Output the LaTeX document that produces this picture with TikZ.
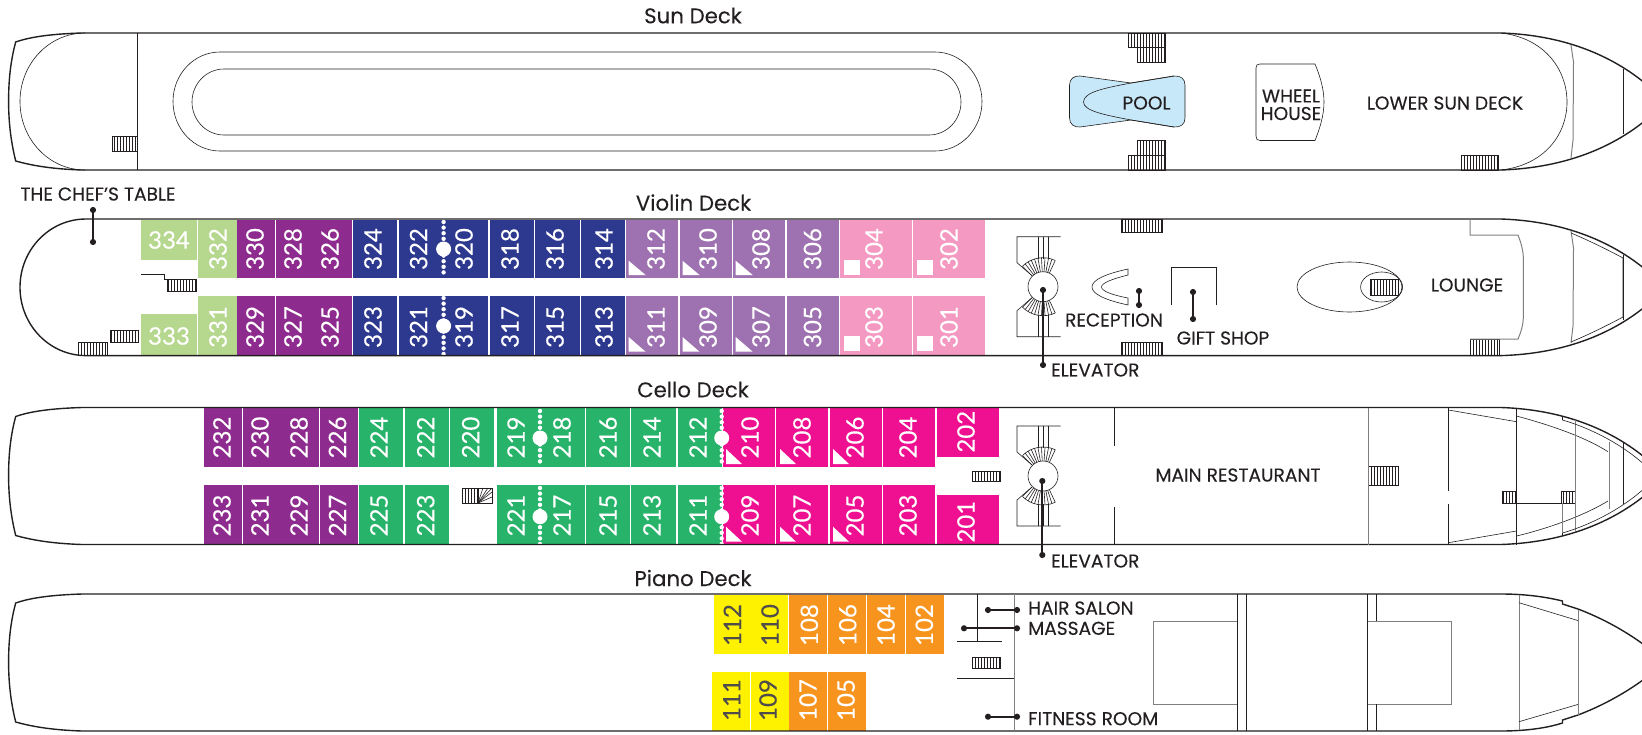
\documentclass[tikz,border=0pt]{standalone}
\usepackage{fontspec}
\setmainfont{Poppins}[FakeBold=0.15]
\newfontfamily\numfont{Lato}[FakeBold=0.2]
\usetikzlibrary{arrows.meta, patterns, positioning}

\definecolor{ink}{HTML}{231F20}
\definecolor{wallgrey}{HTML}{7F7F7F}
\definecolor{leaf}{HTML}{B5D88E}
\definecolor{plum}{HTML}{8E2B8E}
\definecolor{navy}{HTML}{2D388F}
\definecolor{lilac}{HTML}{9E72B0}
\definecolor{rose}{HTML}{F499C1}
\definecolor{emerald}{HTML}{27B36A}
\definecolor{magenta}{HTML}{EE1090}
\definecolor{amber}{HTML}{F7941E}
\definecolor{lemon}{HTML}{FFF200}
\definecolor{poolblue}{HTML}{C7E8F8}

\tikzset{
	pics/bow/.style = {code = {% long sides and pointed end, origin on the top side
		\draw[hull] (82,0) -- (1501,0) .. controls (1590,3) and (1640,42) .. (1665,69)
			.. controls (1640,96) and (1590,134) .. (1501,137) -- (82,137);
	}},
	pics/stern/.style = {code = {% flat end
		\draw[hull] (82,0) .. controls (50,1) and (30,4) .. (15.7,9)
			.. controls (10,30) and (8.6,50) .. (8.6,68)
			.. controls (8.6,85) and (10,105) .. (15.7,128)
			.. controls (30,132) and (50,136) .. (82,137);
	}},
	pics/lift/.style = {code = {% stairs round the lift shaft
		\draw[thin wall] (17.7,-50) -- (-26,-50) -- (-26,-24) -- (-11,-11);
		\draw[thin wall] (17.7,50) -- (-26,50) -- (-26,24) -- (-11,11);
		\foreach \lx in {-5,0,5} {
			\draw[thin wall] (\lx,-50) -- (\lx,-28);
			\draw[thin wall] (\lx,50) -- (\lx,28);
		}
		\foreach \fan in {225,232,...,295} {
			\draw[thin wall] (\fan:15) -- (\fan:29);
			\draw[thin wall] (360-\fan:15) -- (360-\fan:29);
		}
		\draw[thin wall] (225:29) arc (225:295:29);
		\draw[thin wall] (135:29) arc (135:65:29);
		\draw[thin wall, fill=white] (0,0) circle (15);
	}}
}

\begin{document}
\begin{tikzpicture}[x=1pt, y=-1pt,
	hull/.style = {draw=ink, line width=1.4pt},
	thin wall/.style = {draw=ink, line width=0.6pt},
	grey wall/.style = {draw=wallgrey, line width=1pt},
	stairs/.style = {draw=ink, line width=0.6pt, pattern=vertical lines, pattern color=ink},
	room/.style = {text=white, rotate=90, inner sep=0pt, font=\numfont\fontsize{24}{24}\selectfont},
	dark room/.style = {room, text=ink!80},
	tag/.style = {text=ink, inner sep=0pt, font=\fontsize{18.6}{20}\selectfont},
	deckname/.style = {text=ink, inner sep=0pt, font=\fontsize{21.3}{23}\selectfont},
	pointer/.style = {draw=ink, line width=2pt, {Circle[length=6pt]}-{Circle[length=6pt]}},
	portholes/.style = {draw=white, line width=4.4pt, line cap=round, dash pattern=on 0pt off 5.6pt},
	mark up/.style = {fill=white}]

\clip (0,0) rectangle (1642,734);

% deck names
\node[deckname] (sunName) at (693,15.5) {Sun Deck};
\node[deckname] (violinName) at (693.5,202.5) {Violin Deck};
\node[deckname] (celloName) at (693,389.5) {Cello Deck};
\node[deckname] (pianoName) at (693,578) {Piano Deck};

% ---------- Sun Deck ----------
\pic at (0,33) {stern};
\pic at (0,33) {bow};
\draw[thin wall] (85,33) arc (270:90:65 and 68.5);
\draw[thin wall] (1501,33) .. controls (1545,38) and (1567,70) .. (1567,102)
	.. controls (1567,134) and (1545,165) .. (1501,170);
\draw[thin wall] (137.5,33) -- (137.5,170);
\draw[grey wall] (1571,45) -- (1573.5,62) -- (1573,140) -- (1571,158);
\draw[thin wall] (1623,69) -- (1623,134);
% walking track
\draw[thin wall] (220,52) -- (935,52) arc (270:450:47 and 49.5) -- (220,151) arc (90:270:47 and 49.5);
\draw[thin wall] (224,69) -- (929,69) arc (270:450:32 and 33) -- (224,135) arc (90:270:32 and 33);
% stairs
\draw[stairs] (112.5,136) rectangle (137.5,151);
\draw[stairs] (1128,33) rectangle (1165,47);
\draw[stairs] (1137,47) rectangle (1165,62);
\draw[stairs] (1137,140) rectangle (1165,155);
\draw[stairs] (1128,155) rectangle (1165,170);
\draw[stairs] (1461,155) rectangle (1498,170);
% pool
\draw[thin wall, fill=poolblue] (1131,83) -- (1080,76) .. controls (1074,75.5) and (1069.5,79) .. (1069.5,85)
	-- (1069.5,118) .. controls (1069.5,124) and (1074,127.5) .. (1080,127) -- (1131,120) -- (1174,127)
	.. controls (1181,127.5) and (1185,124) .. (1185,118) -- (1185,85)
	.. controls (1185,79) and (1181,75.5) .. (1174,76) -- cycle;
\draw[thin wall] (1174,76) -- (1131,83) .. controls (1105,88) and (1083.5,92) .. (1083.5,102)
	.. controls (1083.5,111) and (1105,115) .. (1131,120) -- (1174,127);
\node[tag] (pool) at (1146.5,103) {POOL};
% wheel house
\draw[thin wall] (1315,64) -- (1260,64) .. controls (1257,64) and (1256,65) .. (1256,68) -- (1256,136)
	.. controls (1256,139) and (1257,140.5) .. (1260,140.5) -- (1315,140.5)
	.. controls (1320,128) and (1324,115) .. (1324,102) .. controls (1324,89) and (1320,76) .. (1315,64);
\node[tag] (wheelWord) at (1291,96) {WHEEL};
\node[tag] (houseWord) at (1291,113.5) {HOUSE};
\node[tag] (lowerSun) at (1445,103) {LOWER SUN DECK};

% ---------- Violin Deck ----------
\fill[leaf] (141,219.5) rectangle (197,260);
\fill[leaf] (141,314) rectangle (197,355);
\foreach \xa/\xb/\shade in {198/236.5/leaf, 237/275/plum, 276/352/plum, 353/397/navy, 399/488/navy,
	490/534/navy, 535/579.5/navy, 581.4/625.4/navy, 626/678/lilac, 679.6/732/lilac, 733/785/lilac,
	787/839/lilac, 840/912/rose, 913/985/rose} {
	\fill[\shade] (\xa,219.5) rectangle (\xb,277.7);
	\fill[\shade] (\xa,296) rectangle (\xb,355);
}
\foreach \nx/\numa/\numb in {218/332/331, 255/330/329, 293/328/327, 330/326/325, 373/324/323,
	418.6/322/321, 464/320/319, 510/318/317, 555/316/315, 604/314/313, 656/312/311, 708/310/309,
	761/308/307, 812.5/306/305, 874/304/303, 949/302/301} {
	\node[room] (c\numa) at (\nx,249) {\numa};
	\node[room] (c\numb) at (\nx,327) {\numb};
}
\node[room, rotate=-90] (c334) at (169,240) {334};
\node[room, rotate=-90] (c333) at (169,336) {333};
\foreach \tx in {628.6,682.5,735.7} {% accessible corners
	\fill[mark up] (\tx,260.7) -- (\tx,275) -- (\tx+17,275) -- cycle;
	\fill[mark up] (\tx,337) -- (\tx,351.7) -- (\tx+17,351.7) -- cycle;
}
\foreach \sx in {844,917} {
	\fill[mark up] (\sx,260) rectangle (\sx+16,275);
	\fill[mark up] (\sx,336) rectangle (\sx+16,351);
}
\draw[portholes] (443.6,222) -- (443.6,276);
\draw[portholes] (443.6,298) -- (443.6,354);
\fill[white] (443.6,249) circle (7.5);
\fill[white] (443.6,326) circle (7.5);
\draw[hull] (1501,219) -- (86,219) arc (270:90:66 and 68.3) -- (1501,355.6);
\draw[hull] (1501,219) .. controls (1590,222) and (1640,261) .. (1665,288)
	.. controls (1640,315) and (1590,353) .. (1501,355.6);
\draw[thin wall] (141,274) -- (164,274) -- (164,279) -- (167,279);
\draw[stairs] (167,279) rectangle (196,291);
\draw[stairs] (110,330) rectangle (138.6,342);
\draw[stairs] (78.6,342) rectangle (107,355);
\draw[stairs] (1121,219) rectangle (1162,232);
\draw[stairs] (1121,342) rectangle (1162,355.5);
\draw[stairs] (1470,339) rectangle (1499.6,355.5);
\pic at (1043,286.7) {lift};
% reception and gift shop
\draw[thin wall] (1128,269) .. controls (1105,274) and (1092,280) .. (1092,287) .. controls (1092,294) and (1105,300) .. (1128,305)
	-- (1128,298) .. controls (1112,295) and (1101.5,291) .. (1101.5,287) .. controls (1101.5,283) and (1112,279) .. (1128,275) -- cycle;
\draw[thin wall] (1171,305) -- (1171,267) -- (1216,267) -- (1216,305);
\draw[thin wall] (1349.5,287) ellipse (52.5 and 25);
\draw[thin wall] (1381.6,287) ellipse (21 and 15);
\draw[stairs] (1370.6,279) rectangle (1398,295);
% lounge
\draw[grey wall] (1470,219) -- (1470,235) -- (1518,235) .. controls (1521,243) and (1523.3,250) .. (1523.3,258)
	-- (1523.3,317) .. controls (1523.3,325) and (1521,332) .. (1518,339) -- (1470,339);
\draw[grey wall] (1571,231) -- (1573.5,248) -- (1573,326) -- (1571,343);
\draw[thin wall] (1571,233) .. controls (1590,241) and (1608,250) .. (1623,258) -- (1623,317)
	.. controls (1608,325) and (1590,334) .. (1571,342);
\draw[thin wall] (1623,255) -- (1623,320);
\node[tag] (lounge) at (1467,285) {LOUNGE};
% labels with pointers
\node[tag] (chefTable) at (98,194) {THE CHEF’S TABLE};
\coordinate (chefA) at (93,207);
\coordinate (chefB) at (93,245);
\draw[pointer] (chefA) -- (chefB);
\coordinate (liftA) at (1043,287);
\coordinate (liftB) at (1043,368);
\draw[pointer] (liftA) -- (liftB);
\node[tag, right=8pt of liftB, yshift=-2pt] (elevatorA) {ELEVATOR};
\node[tag] (reception) at (1114,320) {RECEPTION};
\coordinate (receptionA) at (1139,288);
\coordinate (receptionB) at (1139,308);
\draw[pointer] (receptionA) -- (receptionB);
\node[tag] (giftShop) at (1223,338) {GIFT SHOP};
\coordinate (giftA) at (1193,289);
\coordinate (giftB) at (1193,322);
\draw[pointer] (giftA) -- (giftB);

% ---------- Cello Deck ----------
\foreach \xa/\xb/\shade in {204/242/plum, 243/319/plum, 320/358/plum, 359/403/emerald, 405/449/emerald,
	496.5/585/emerald, 586/630/emerald, 631/675.7/emerald, 678/722/emerald, 722.7/775/magenta,
	776/828/magenta, 830/882/magenta, 883/935/magenta} {
	\fill[\shade] (\xa,408) rectangle (\xb,466.7);
	\fill[\shade] (\xa,485) rectangle (\xb,545);
}
\fill[emerald] (450,408) rectangle (494,466.7);
\fill[magenta] (937,408) rectangle (999,456.7);
\fill[magenta] (937,495) rectangle (999,545);
\foreach \nx/\numa/\numb in {222/232/233, 260/230/231, 299/228/229, 337.5/226/227, 379/224/225,
	425.7/222/223, 516/219/221, 562/218/217, 608/216/215, 652/214/213, 698/212/211,
	750/210/209, 802/208/207, 855/206/205, 908/204/203} {
	\node[room] (c\numa) at (\nx,437.5) {\numa};
	\node[room] (c\numb) at (\nx,515.5) {\numb};
}
\node[room] (c220) at (470.7,437.5) {220};
\node[room] (c202) at (966,431.7) {202};
\node[room] (c201) at (966,521.7) {201};
\foreach \tx in {726,780,833} {
	\fill[mark up] (\tx,449) -- (\tx,464) -- (\tx+16,464) -- cycle;
	\fill[mark up] (\tx,526.7) -- (\tx,541.7) -- (\tx+16,541.7) -- cycle;
}
\foreach \dx in {540,721.7} {
	\draw[portholes] (\dx,411) -- (\dx,465);
	\draw[portholes] (\dx,488) -- (\dx,544);
	\fill[white] (\dx,438) circle (7.5);
	\fill[white] (\dx,516.7) circle (7.5);
}
\pic at (0,407.5) {stern};
\pic at (0,407.5) {bow};
\pic at (1043,476) {lift};
% stairs
\draw[stairs] (462.5,488) rectangle (478,503);
\draw[thin wall] (478,488) rectangle (492,503);
\foreach \gx/\gy in {478/488, 483/488, 488/488, 492/488, 492/492, 492/497} {
	\draw[thin wall] (\gx,\gy) -- (478,503);
}
\draw[stairs] (972,471) rectangle (1000,481.7);
\draw[stairs] (1368.6,466.7) rectangle (1398,485.7);
\draw[stairs] (1502,491) rectangle (1516,503.3);
\draw[stairs] (1561.5,491) rectangle (1575,503.3);
% walls
\draw[thin wall] (1114,408) -- (1114,445.7);
\draw[thin wall] (1114,506.7) -- (1114,545);
\draw[grey wall] (1368,408) -- (1368,545);
\draw[thin wall] (1448.4,408) -- (1448.4,490.7);
\draw[thin wall] (1448.4,504) -- (1448.4,545);
\draw[thin wall] (1448.4,410) -- (1516.5,421.7);
\draw[thin wall] (1448.4,542.7) -- (1516.5,531);
\draw[thin wall] (1516.5,408) -- (1516.5,545);
\draw[thin wall] (1516.5,416) .. controls (1550,425) and (1585,437) .. (1608,451.7);
\draw[thin wall] (1516.5,536) .. controls (1550,528) and (1585,515) .. (1608,501);
\draw[grey wall, line width=0.8pt] (1609,442) -- (1609,509);
\draw[grey wall, line width=0.8pt] (1575,420) -- (1575,531.7);
\draw[thin wall] (1623,443) -- (1623,504);
\draw[thin wall] (1562.5,416) -- (1562.5,420) .. controls (1590,428) and (1625,445) .. (1650,470);
\draw[thin wall] (1562.5,536) -- (1562.5,533) .. controls (1590,525) and (1625,508) .. (1650,483);
\draw[thin wall] (1502,503.3) -- (1575,503.3);
\draw[grey wall, line width=0.8pt] (1562.5,503.3) -- (1562.5,533);
\node[tag] (restaurant) at (1238,475) {MAIN RESTAURANT};
\coordinate (liftC) at (1042.3,478);
\coordinate (liftD) at (1042.3,558);
\draw[pointer] (liftC) -- (liftD);
\node[tag, right=8.7pt of liftD, yshift=-3pt] (elevatorB) {ELEVATOR};

% ---------- Piano Deck ----------
\fill[lemon] (714,594.5) rectangle (788.3,653.7);
\fill[lemon] (712,672) rectangle (750,731);
\fill[lemon] (751,672) rectangle (789,731);
\foreach \xa/\xb in {789/827, 828/866} {
	\fill[amber] (\xa,594.5) rectangle (\xb,653.7);
	\fill[amber] (\xa,672) rectangle (\xb,731);
}
\foreach \xa/\xb in {867/905, 906/944} {
	\fill[amber] (\xa,594.5) rectangle (\xb,653.7);
}
\node[dark room] (c112) at (732.3,625) {112};
\node[dark room] (c110) at (770,625) {110};
\node[dark room] (c111) at (731.7,700) {111};
\node[dark room] (c109) at (768,700) {109};
\foreach \nx/\numa in {809.3/108, 847.7/106, 886/104, 924.3/102} {
	\node[room] (c\numa) at (\nx,625) {\numa};
}
\node[room] (c107) at (808,700) {107};
\node[room] (c105) at (846,700) {105};
\pic at (0,594) {stern};
\draw[hull] (82,594) -- (1501,594) .. controls (1530,594) and (1550,598) .. (1562.5,601) -- (1562.5,604)
	-- (1578,609) .. controls (1620,625) and (1650,648) .. (1665,662)
	.. controls (1650,676) and (1620,699) .. (1578,715) -- (1562.5,720) -- (1562.5,723)
	.. controls (1550,727) and (1530,731) .. (1501,731) -- (82,731);
\draw[grey wall] (1014,594) -- (1014,731);
\draw[thin wall] (977,594) -- (977,641.7);
\draw[thin wall] (957.3,641.7) -- (1001.7,641.7);
\draw[thin wall] (957.3,678.3) -- (1014,678.3);
\draw[stairs] (972.3,657.3) rectangle (1000.3,668);
\draw[grey wall, line width=0.8pt] (1153.6,621) rectangle (1237.6,704.3);
\draw[thin wall] (1237.6,594) -- (1237.6,731);
\draw[thin wall] (1246.2,594) -- (1246.2,731);
\draw[grey wall, line width=0.8pt] (1367,621) rectangle (1451,704.3);
\draw[thin wall] (1367,594) -- (1367,731);
\draw[thin wall] (1376.5,594) -- (1376.5,621);
\draw[thin wall] (1376.5,704.3) -- (1376.5,731);
\draw[grey wall] (1519,595) -- (1519,730);
\draw[thin wall] (1519,602.7) -- (1578.4,620.7);
\draw[thin wall] (1519,721.7) -- (1578.4,704.3);
\draw[grey wall] (1578.4,610) -- (1578.4,715);
% labels with pointers
\coordinate (salonA) at (985,610);
\coordinate (salonB) at (1020,610);
\draw[pointer] (salonA) -- (salonB);
\node[tag, right=8pt of salonB, yshift=2pt] (hairSalon) {HAIR SALON};
\coordinate (massageA) at (961,628.3);
\coordinate (massageB) at (1020,628.3);
\draw[pointer] (massageA) -- (massageB);
\node[tag, right=8pt of massageB] (massage) {MASSAGE};
\coordinate (fitnessA) at (985,716.7);
\coordinate (fitnessB) at (1020,716.7);
\draw[pointer] (fitnessA) -- (fitnessB);
\node[tag, right=8pt of fitnessB, yshift=-2pt] (fitness) {FITNESS ROOM};

\end{tikzpicture}
\end{document}
